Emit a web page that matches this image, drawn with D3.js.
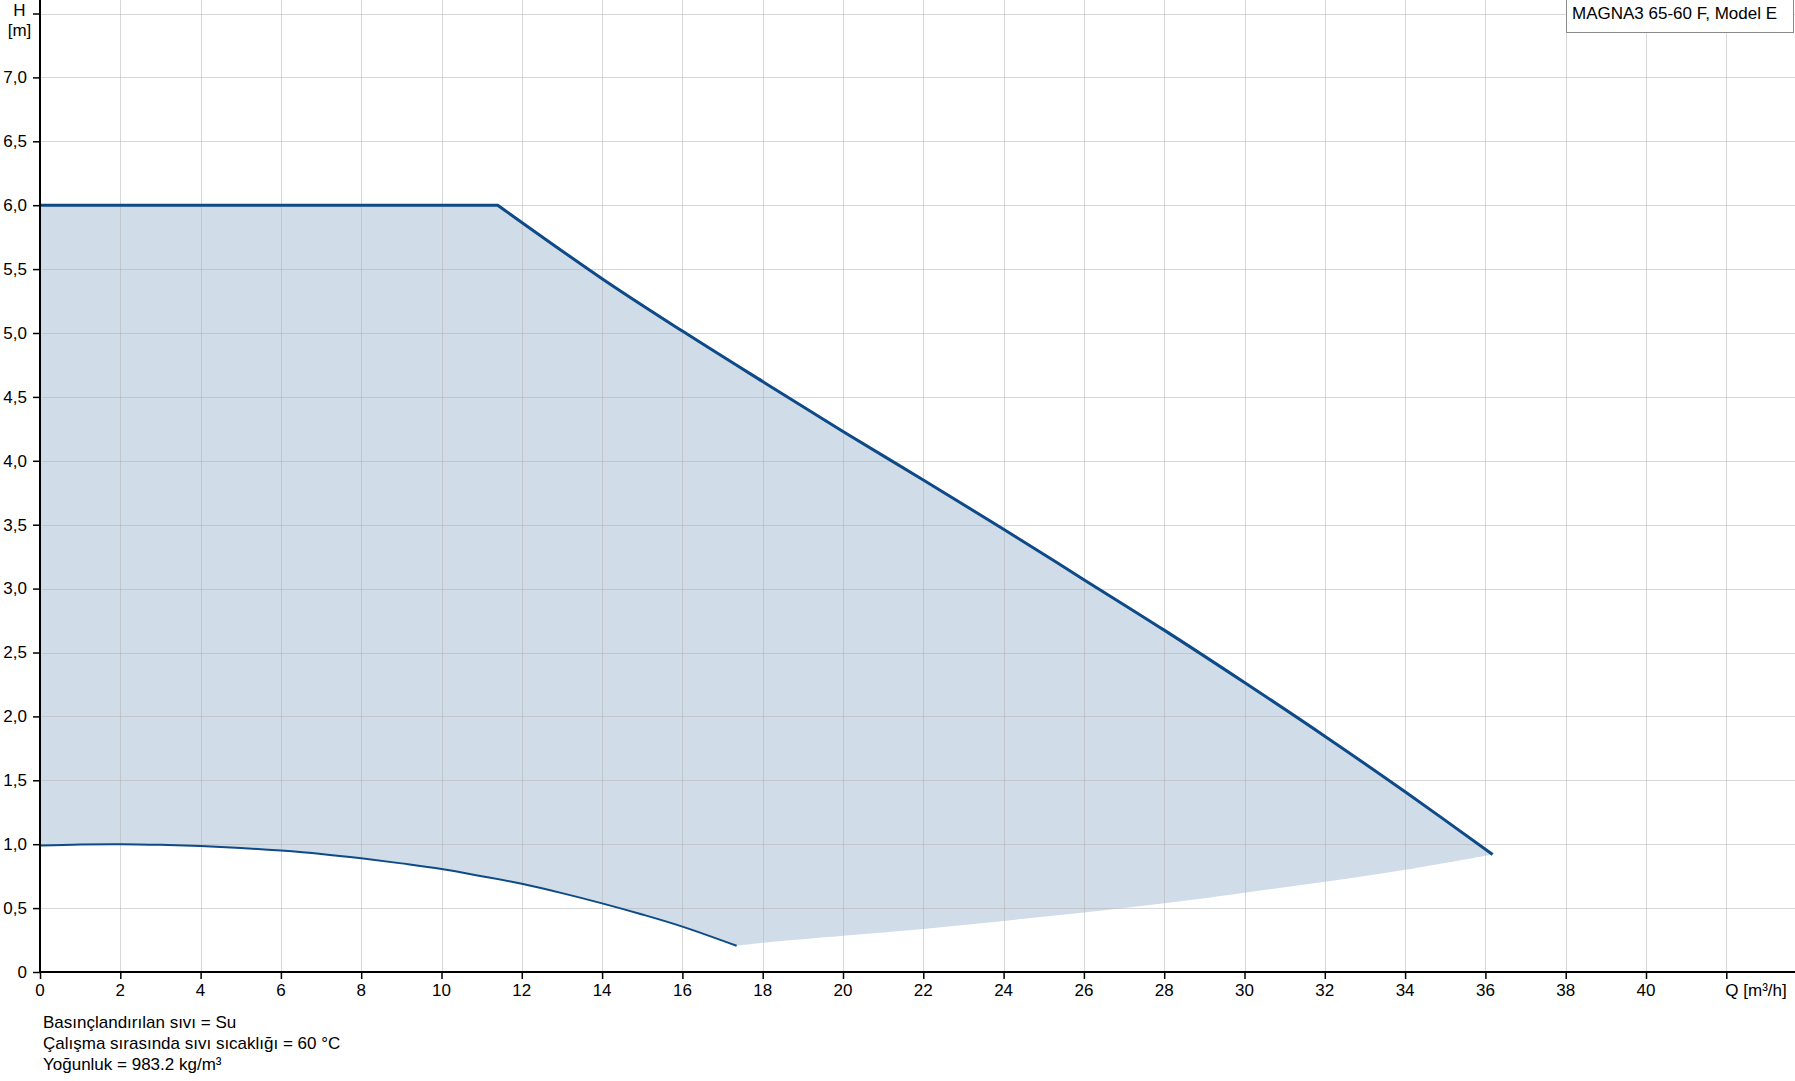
<!DOCTYPE html>
<html>
<head>
<meta charset="utf-8">
<script src="https://cdn.jsdelivr.net/npm/d3@7"></script>
<style>
  html, body { margin: 0; padding: 0; background: #fff; }
  svg { display: block; }
  text { font-family: "Liberation Sans", Arial, sans-serif; font-size: 17px; fill: #000; }
</style>
</head>
<body>
<svg id="chart" width="1795" height="1081"></svg>
<script>
// ---- Data ----
const xTicks = [0,2,4,6,8,10,12,14,16,18,20,22,24,26,28,30,32,34,36,38,40,42];
const xTickLabels = ["0","2","4","6","8","10","12","14","16","18","20","22","24","26","28","30","32","34","36","38","40","Q [m³/h]"];
const yTicks = [0,0.5,1,1.5,2,2.5,3,3.5,4,4.5,5,5.5,6,6.5,7,7.5];
const yTickLabels = ["0","0,5","1,0","1,5","2,0","2,5","3,0","3,5","4,0","4,5","5,0","5,5","6,0","6,5","7,0","H"];
const yUnitLabel = "[m]";

// Max curve: flat part and descending part
const maxFlatQ = [0, 11.4];
const maxFlatH = [6.0, 6.0];
const maxDescQ = [11.4, 14, 16, 18, 20, 22, 24, 26, 28, 30, 32, 34, 36.18];
const maxDescH = [6.0, 5.425, 5.015, 4.62, 4.23, 3.85, 3.465, 3.07, 2.675, 2.265, 1.845, 1.41, 0.92];

// Min curve
const minQ = [0, 1, 2, 3, 4, 5, 6, 7, 8, 9, 10, 11, 12, 13, 14, 15, 16, 17.35];
const minH = [0.99, 0.998, 1.0, 0.995, 0.985, 0.97, 0.95, 0.924, 0.89, 0.85, 0.806, 0.75, 0.69, 0.617, 0.537, 0.45, 0.355, 0.205];

// Lower boundary of the operating area (system curve)
const sysQ = [17.35, 18, 20, 22, 24, 26, 28, 30, 32, 34, 36.18];
const sysH = [0.205, 0.228, 0.283, 0.337, 0.40, 0.465, 0.537, 0.62, 0.706, 0.80, 0.92];

const legendText = "MAGNA3 65-60 F, Model E";
const notes = ["Basınçlandırılan sıvı = Su", "Çalışma sırasında sıvı sıcaklığı = 60 °C", "Yoğunluk = 983.2 kg/m³"];

// ---- Drawing ----
const W = 1795, H = 1081;
const svg = d3.select("#chart");
const x = d3.scaleLinear().domain([0, 42]).range([40, 1726.3]);
const y = d3.scaleLinear().domain([0, 7.5]).range([972, 13.5]);

const lineColor = "#0d4a87";
const fillColor = "#d0dce8";

const zip = (a, b) => a.map((v, i) => [v, b[i]]);
const flatPts = zip(maxFlatQ, maxFlatH);
const descPts = zip(maxDescQ, maxDescH);
const minPts = zip(minQ, minH);
const sysPts = zip(sysQ, sysH);

const linLine = d3.line().x(d => x(d[0])).y(d => y(d[1]));
const crLine = d3.line().x(d => x(d[0])).y(d => y(d[1])).curve(d3.curveCatmullRom.alpha(0.5));

const cont = p => "L" + p.slice(1);
const fillPath =
  linLine(flatPts) +
  cont(crLine(descPts)) +
  cont(crLine(sysPts.slice().reverse())) +
  cont(crLine(minPts.slice().reverse())) + "Z";

svg.append("path").attr("d", fillPath).attr("fill", fillColor).attr("stroke", "none");

// grid
const grid = svg.append("g").attr("stroke", "rgba(175,175,175,0.5)").attr("stroke-width", 1);
xTicks.filter(t => t > 0).concat([44]).forEach(t => {
  const px = Math.round(x(t)) + 0.5;
  grid.append("line").attr("x1", px).attr("x2", px).attr("y1", 0).attr("y2", y(0));
});
yTicks.filter(t => t > 0).forEach(t => {
  const py = Math.round(y(t)) + 0.5;
  grid.append("line").attr("x1", x(0)).attr("x2", W).attr("y1", py).attr("y2", py);
});

// curves
svg.append("path").attr("d", linLine(flatPts) + cont(crLine(descPts)))
  .attr("fill", "none").attr("stroke", lineColor).attr("stroke-width", 3)
  .attr("stroke-linejoin", "miter");
svg.append("path").attr("d", crLine(minPts))
  .attr("fill", "none").attr("stroke", lineColor).attr("stroke-width", 2);

// axes
const axG = svg.append("g").attr("stroke", "#000").attr("stroke-width", 2);
axG.append("line").attr("x1", x(0)).attr("x2", x(0)).attr("y1", 0).attr("y2", y(0) + 1);
axG.append("line").attr("x1", x(0) - 1).attr("x2", W).attr("y1", y(0)).attr("y2", y(0));

const yAxis = d3.axisLeft(y).tickValues(yTicks).tickSize(7).tickFormat("");
const yg = svg.append("g").attr("transform", `translate(${x(0)},0)`).call(yAxis);
yg.select(".domain").remove();
yg.selectAll(".tick line").attr("stroke", "#000").attr("stroke-width", 1.5);

const xAxis = d3.axisBottom(x).tickValues(xTicks).tickSize(7).tickFormat("");
const xg = svg.append("g").attr("transform", `translate(0,${y(0)})`).call(xAxis);
xg.select(".domain").remove();
xg.selectAll(".tick line").attr("stroke", "#000").attr("stroke-width", 1.5);

// y labels
yTicks.forEach((t, i) => {
  if (i === yTicks.length - 1) {
    svg.append("text").attr("x", 19.5).attr("y", 15.5).attr("text-anchor", "middle").text(yTickLabels[i]);
    svg.append("text").attr("x", 19.5).attr("y", 36).attr("text-anchor", "middle").text(yUnitLabel);
  } else {
    svg.append("text").attr("x", 27).attr("y", y(t) + 5.8).attr("text-anchor", "end").text(yTickLabels[i]);
  }
});

// x labels
xTicks.forEach((t, i) => {
  const last = i === xTicks.length - 1;
  svg.append("text").attr("x", last ? x(t) - 1 : x(t)).attr("y", 995.5)
    .attr("text-anchor", last ? "start" : "middle").text(xTickLabels[i]);
});

// legend box
svg.append("rect").attr("x", 1566.5).attr("y", -1).attr("width", 227).attr("height", 33.5)
  .attr("fill", "#fff").attr("stroke", "#8a8a8a").attr("stroke-width", 1);
svg.append("text").attr("x", 1572).attr("y", 18.5).text(legendText);

// notes
notes.forEach((n, i) => {
  svg.append("text").attr("x", 43).attr("y", 1028 + i * 20.8).text(n);
});
</script>
</body>
</html>
